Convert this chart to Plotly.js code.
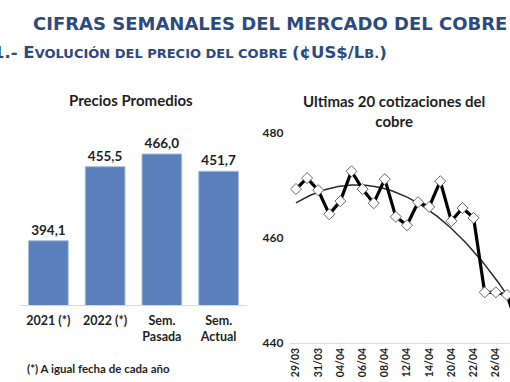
<!DOCTYPE html>
<html>
<head>
<meta charset="utf-8">
<script src="https://cdn.plot.ly/plotly-3.0.1.min.js"></script>
<style>
html,body{margin:0;padding:0;background:#fff;overflow:hidden;}
#chart{width:510px;height:382px;}
</style>
</head>
<body>
<div id="chart"></div>
<script>
// ---- Data ----
const barCategories = ["2021 (*)", "2022 (*)", "Sem.<br>Pasada", "Sem.<br>Actual"];
const barValues = [394.1, 455.5, 466.0, 451.7];

const quoteDates = ["29/03","30/03","31/03","01/04","04/04","05/04","06/04","07/04","08/04","11/04",
                    "12/04","13/04","14/04","19/04","20/04","21/04","22/04","25/04","26/04","27/04","28/04"];
const quoteValues = [469.3, 471.4, 469.1, 464.5, 467.0, 472.7, 469.3, 466.6, 471.2, 464.0,
                     462.4, 466.8, 465.9, 470.8, 463.2, 465.7, 463.8, 449.6, 449.6, 449.1, 443.0];
const quoteTickLabels = ["29/03","31/03","04/04","06/04","08/04","12/04","14/04","20/04","22/04","26/04"];
const yTicks = [440, 460, 480];

// ---- helpers ----
const W = 510, H = 382;
const px = x => x / W;
const py = y => 1 - y / H;

const idx = quoteDates.map((d, i) => i);
const tickIdx = quoteTickLabels.map(t => quoteDates.indexOf(t));

// polynomial (order 2) least-squares trend, like a spreadsheet trendline
function polyFit(xs, ys, order) {
  const n = order + 1;
  const A = Array.from({length: n}, () => new Array(n + 1).fill(0));
  for (let k = 0; k < xs.length; k++) {
    for (let r = 0; r < n; r++) {
      for (let c = 0; c < n; c++) A[r][c] += Math.pow(xs[k], r + c);
      A[r][n] += ys[k] * Math.pow(xs[k], r);
    }
  }
  for (let i = 0; i < n; i++) {
    let p = i;
    for (let r = i + 1; r < n; r++) if (Math.abs(A[r][i]) > Math.abs(A[p][i])) p = r;
    [A[i], A[p]] = [A[p], A[i]];
    for (let r = 0; r < n; r++) {
      if (r === i) continue;
      const f = A[r][i] / A[i][i];
      for (let c = i; c <= n; c++) A[r][c] -= f * A[i][c];
    }
  }
  return A.map((row, i) => row[n] / row[i]);
}
const coef = polyFit(idx, quoteValues, 2);
const trendX = [], trendY = [];
for (let t = 0; t <= (quoteDates.length - 1) * 10; t++) {
  const x = t / 10;
  trendX.push(x);
  trendY.push(coef.reduce((s, c, i) => s + c * Math.pow(x, i), 0));
}

const dark = "#1f1f1f";
const navy = "#2c4a7e";
const chartFont = "Lato, 'Open Sans', sans-serif";

const traces = [
  {
    type: "bar", x: barCategories, y: barValues, xaxis: "x", yaxis: "y",
    marker: {color: "#5b7fba", line: {color: "#a9bedc", width: 1}},
    text: barValues.map(v => v.toFixed(1).replace(".", ",")),
    textposition: "outside", cliponaxis: false,
    textfont: {family: chartFont, size: 13.5, color: dark, weight: 700},
    hoverinfo: "none"
  },
  {
    type: "scatter", mode: "lines", x: trendX, y: trendY, xaxis: "x2", yaxis: "y2",
    line: {color: "#2a2a2a", width: 1.5}, hoverinfo: "none"
  },
  {
    type: "scatter", mode: "lines+markers", x: idx, y: quoteValues, xaxis: "x2", yaxis: "y2",
    line: {color: "#000", width: 3.2},
    marker: {symbol: "diamond", size: 8.5, color: "#fff", line: {color: "#666", width: 1}},
    hoverinfo: "none"
  }
];

const layout = {
  width: W, height: H,
  margin: {l: 0, r: 0, t: 0, b: 0},
  paper_bgcolor: "#fff", plot_bgcolor: "rgba(0,0,0,0)",
  showlegend: false,
  bargap: 0.3,
  font: {family: chartFont, color: dark},
  xaxis: {
    domain: [px(20), px(247)],
    anchor: "y",
    showline: true, linecolor: "#d9d9d9", linewidth: 1,
    ticks: "", fixedrange: true, ticklabelstandoff: 4,
    tickfont: {family: chartFont, size: 12.5, color: dark, weight: 700}
  },
  yaxis: {
    domain: [py(305), py(130)],
    anchor: "x",
    range: [340.8, 340.8 + 175 / 1.206],
    visible: false, fixedrange: true
  },
  xaxis2: {
    domain: [px(290.4), 1],
    anchor: "y2",
    range: [-0.5, 19.28],
    tickmode: "array", tickvals: tickIdx, ticktext: quoteTickLabels,
    tickangle: -90,
    showline: true, linecolor: "#d9d9d9", linewidth: 1,
    showgrid: false, zeroline: false, ticks: "", fixedrange: true,
    tickfont: {family: chartFont, size: 10.5, color: dark, weight: 700}
  },
  yaxis2: {
    domain: [py(342.7), py(133)],
    anchor: "x2",
    range: [440, 480],
    tickmode: "array", tickvals: yTicks,
    showgrid: false, zeroline: false, showline: false, ticks: "", fixedrange: true,
    ticklabelstandoff: 6,
    tickfont: {family: chartFont, size: 12, color: dark, weight: 700}
  },
  annotations: [
    {xref: "paper", yref: "paper", x: px(270), y: py(24), xanchor: "center", yanchor: "middle",
     text: "<b>CIFRAS SEMANALES DEL MERCADO DEL COBRE</b>", showarrow: false,
     font: {family: "'DejaVu Sans', Verdana, sans-serif", size: 18, color: navy}},
    {xref: "paper", yref: "paper", x: px(-9), y: py(52), xanchor: "left", yanchor: "middle",
     text: "<b><span style='font-size:16.5px'>1.- E</span><span style='font-size:13px'>VOLUCIÓN DEL PRECIO DEL COBRE </span><span style='font-size:16.5px'>(¢US$/L</span><span style='font-size:13px'>B.</span><span style='font-size:16.5px'>)</span></b>",
     showarrow: false,
     font: {family: "'DejaVu Sans', Verdana, sans-serif", size: 16.5, color: navy}},
    {xref: "paper", yref: "paper", x: px(131), y: py(100), xanchor: "center", yanchor: "middle",
     text: "<b>Precios Promedios</b>", showarrow: false,
     font: {family: chartFont, size: 15, color: dark}},
    {xref: "paper", yref: "paper", x: px(394), y: py(111), xanchor: "center", yanchor: "middle",
     text: "<b>Ultimas 20 cotizaciones del<br>cobre</b>", showarrow: false,
     font: {family: chartFont, size: 15, color: dark}},
    {xref: "paper", yref: "paper", x: px(25), y: py(368), xanchor: "left", yanchor: "middle",
     text: "<b>(*) A igual fecha de cada año</b>", showarrow: false,
     font: {family: chartFont, size: 11.5, color: dark}}
  ]
};

Plotly.newPlot("chart", traces, layout, {displayModeBar: false, staticPlot: true});
</script>
</body>
</html>
